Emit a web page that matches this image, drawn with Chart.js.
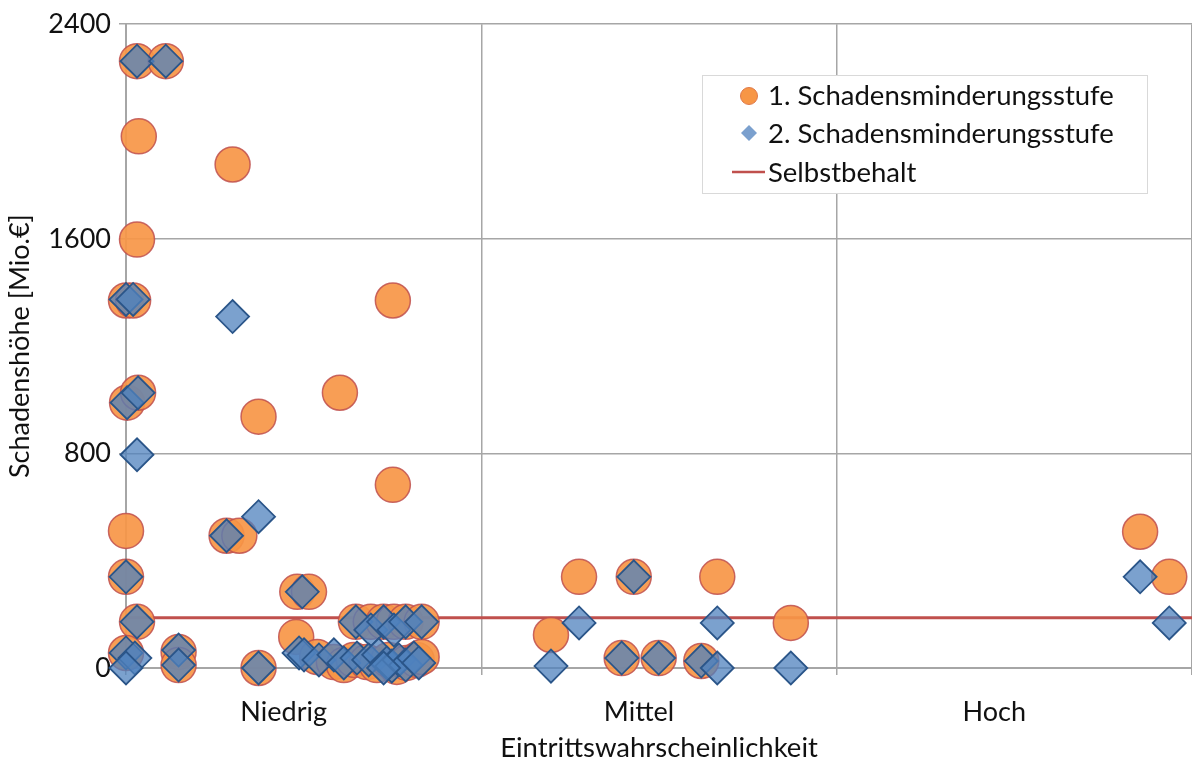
<!DOCTYPE html>
<html>
<head>
<meta charset="utf-8">
<script src="https://cdn.jsdelivr.net/npm/chart.js@4"></script>
<style>
  html, body { margin: 0; padding: 0; background: #fff; }
  #wrap { width: 1192px; height: 765px; }
</style>
</head>
<body>
<div id="wrap"><canvas id="chart"></canvas></div>
<script>
// Kategorien der x-Achse
const categories = ['Niedrig', 'Mittel', 'Hoch'];
const yTicks = [0, 800, 1600, 2400];

// 1. Schadensminderungsstufe (Kreise)
const stufe1X = [0.031, 0.112, 0.036, 0.031, 0.000, 0.020, 0.003, 0.034, 0.000, 0.000, 0.031, 0.000,
  0.148, 0.148, 0.373, 0.283, 0.319, 0.300, 0.373, 0.602, 0.751, 0.751, 0.482, 0.515, 0.479,
  0.647, 0.689, 0.725, 0.754, 0.787, 0.832,
  0.538, 0.585, 0.613, 0.641, 0.678, 0.706, 0.739, 0.762, 0.790, 0.818, 0.832,
  1.275, 1.196, 1.429, 1.664, 1.871, 1.395, 1.499, 1.619,
  2.854, 2.936];
const stufe1Y = [2262, 2262, 1982, 1597, 1370, 1370, 989, 1026, 511, 340, 172, 56,
  60, 11, 0, 493, 493, 1877, 937, 1026, 1370, 683, 284, 284, 116,
  172, 172, 172, 172, 172, 172,
  41, 22, 11, 30, 22, 11, 30, 4, 19, 30, 41,
  340, 123, 340, 340, 168, 37, 37, 26,
  508, 340];

// 2. Schadensminderungsstufe (Rauten)
const stufe2X = [0.031, 0.112, 0.000, 0.020, 0.003, 0.034, 0.031, 0.000, 0.031, 0.000, 0.025, 0.000,
  0.148, 0.148, 0.373, 0.283, 0.300, 0.373, 0.496, 0.487,
  0.647, 0.689, 0.725, 0.754, 0.787, 0.832,
  0.501, 0.543, 0.585, 0.613, 0.650, 0.683, 0.711, 0.734, 0.748, 0.768, 0.787, 0.810, 0.824, 0.725,
  1.196, 1.275, 1.429, 1.395, 1.499, 1.619, 1.664, 1.664, 1.871,
  2.854, 2.936];
const stufe2Y = [2262, 2262, 1374, 1374, 989, 1026, 795, 340, 172, 56, 37, 0,
  67, 11, 0, 493, 1310, 564, 284, 56,
  172, 142, 172, 142, 172, 172,
  49, 30, 49, 19, 37, 30, 49, 19, 7, 30, 11, 37, 19, 0,
  7, 168, 340, 37, 37, 26, 0, 168, 0,
  340, 168];

const selbstbehalt = 187;
const xRange = [0, 3];

const toPoints = (xs, ys) => xs.map((x, i) => ({ x: x, y: ys[i] }));

const FONT = 'Lato, "Open Sans", sans-serif';
const gridColor = '#a6a6a6';

// Legende innerhalb der Zeichenfläche
const legendBox = {
  id: 'legendBox',
  afterDraw(chart) {
    const ctx = chart.ctx;
    const left = 702, top = 75, w = 445, h = 118;
    ctx.save();
    ctx.fillStyle = '#fff';
    ctx.fillRect(left, top, w, h);
    ctx.strokeStyle = '#d9d9d9';
    ctx.lineWidth = 1;
    ctx.strokeRect(left + 0.5, top + 0.5, w, h);

    // Kreis
    ctx.beginPath();
    ctx.arc(749, 96, 8.5, 0, Math.PI * 2);
    ctx.fillStyle = '#f79646';
    ctx.fill();
    ctx.strokeStyle = '#e07a4a';
    ctx.lineWidth = 1;
    ctx.stroke();
    // Raute
    ctx.beginPath();
    ctx.moveTo(749, 125); ctx.lineTo(757, 133); ctx.lineTo(749, 141); ctx.lineTo(741, 133);
    ctx.closePath();
    ctx.fillStyle = '#7ba0ce';
    ctx.fill();
    // Linie
    ctx.beginPath();
    ctx.moveTo(732, 172); ctx.lineTo(765, 172);
    ctx.strokeStyle = '#c0504d';
    ctx.lineWidth = 2.5;
    ctx.stroke();

    ctx.fillStyle = '#111';
    ctx.font = '27.5px ' + FONT;
    ctx.textBaseline = 'middle';
    ctx.textAlign = 'left';
    ctx.fillText('1. Schadensminderungsstufe', 768, 96);
    ctx.fillText('2. Schadensminderungsstufe', 768, 134);
    ctx.fillText('Selbstbehalt', 768, 173);
    ctx.restore();
  }
};

new Chart(document.getElementById('chart'), {
  type: 'scatter',
  data: {
    datasets: [
      {
        label: 'Selbstbehalt',
        type: 'line',
        data: xRange.map(x => ({ x: x, y: selbstbehalt })),
        borderColor: '#c0504d',
        borderWidth: 3,
        pointRadius: 0,
        clip: false,
        order: 3
      },
      {
        label: '1. Schadensminderungsstufe',
        data: toPoints(stufe1X, stufe1Y),
        pointStyle: 'circle',
        pointRadius: 17.5,
        backgroundColor: 'rgba(247,150,70,0.92)',
        borderColor: 'rgba(192,80,77,0.85)',
        borderWidth: 1.5,
        clip: false,
        order: 2
      },
      {
        label: '2. Schadensminderungsstufe',
        data: toPoints(stufe2X, stufe2Y),
        pointStyle: 'rectRot',
        pointRadius: 16.5,
        backgroundColor: 'rgba(79,129,189,0.75)',
        borderColor: '#2a5589',
        borderWidth: 1.8,
        clip: false,
        order: 1
      }
    ]
  },
  options: {
    responsive: true,
    maintainAspectRatio: false,
    animation: false,
    layout: { autoPadding: false, padding: { top: 10, right: -5, left: 0, bottom: 0 } },
    plugins: {
      legend: { display: false },
      tooltip: { enabled: false }
    },
    scales: {
      x: {
        type: 'linear',
        min: 0,
        max: 3,
        afterBuildTicks: axis => {
          axis.ticks = [0, 0.5, 1, 1.5, 2, 2.5, 3].map(v => ({ value: v }));
        },
        afterFit: scale => {
          scale.height = 97;
          scale.paddingRight = 0;
          scale.paddingLeft = 0;
        },
        border: { color: gridColor, width: 2 },
        grid: {
          color: ctx => (ctx.tick && Number.isInteger(ctx.tick.value)) ? gridColor : 'rgba(0,0,0,0)',
          lineWidth: 1.5,
          tickLength: 7,
          drawOnChartArea: true
        },
        ticks: {
          autoSkip: false,
          maxRotation: 0,
          padding: 21,
          labelOffset: -20,
          color: '#111',
          font: { family: FONT, size: 27 },
          callback: v => {
            const i = Math.floor(v);
            return (v % 1 !== 0 && categories[i]) ? categories[i] : '';
          }
        },
        title: {
          display: true,
          text: 'Eintrittswahrscheinlichkeit',
          color: '#111',
          font: { family: FONT, size: 27.5 },
          padding: { top: 0, bottom: 0 }
        }
      },
      y: {
        min: 0,
        max: 2400,
        afterBuildTicks: axis => {
          axis.ticks = yTicks.map(v => ({ value: v }));
        },
        afterFit: scale => { scale.width = 126; },
        border: { color: gridColor, width: 2 },
        grid: {
          color: gridColor,
          lineWidth: 1.5,
          tickLength: 7
        },
        ticks: {
          padding: 8,
          color: '#111',
          font: { family: FONT, size: 27 },
          callback: v => String(v)
        },
        title: {
          display: true,
          text: 'Schadenshöhe [Mio.€]',
          color: '#111',
          font: { family: FONT, size: 27 },
          padding: { top: 4, bottom: 0 }
        }
      }
    }
  },
  plugins: [legendBox]
});
</script>
</body>
</html>
